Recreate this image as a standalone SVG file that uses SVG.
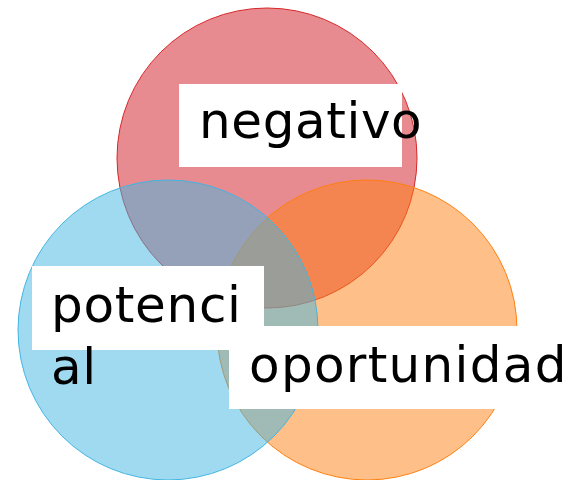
<svg xmlns="http://www.w3.org/2000/svg" width="573" height="480" viewBox="0 0 573 480">
<style>
.c{fill-opacity:0.5;stroke-width:1}
.box{fill:#ffffff}
.t{font-family:"DejaVu Sans","Liberation Sans",sans-serif;font-size:50px;fill:#000000}
</style>
<rect width="573" height="480" fill="#ffffff"/>
<g id="circle-negativo"><circle class="c" cx="267" cy="158" r="150" fill="#D11721" stroke="#D62728"/></g>
<g id="circle-oportunidad"><circle class="c" cx="367" cy="330" r="150" fill="#FF7F11" stroke="#FF7F0E"/></g>
<g id="circle-potencial"><circle class="c" cx="168" cy="330" r="150" fill="#41B5E1" stroke="#41B5E1"/></g>
<g id="label-negativo">
<rect class="box" x="179" y="84" width="223" height="83"/>
<text class="t" x="199" y="138" letter-spacing="0.6">negativo</text>
</g>
<g id="label-potencial">
<rect class="box" x="32" y="266" width="232" height="84"/>
<text class="t" x="51" y="322" letter-spacing="0.7">potenci<tspan x="51" y="384">al</tspan></text>
</g>
<g id="label-oportunidad">
<rect class="box" x="229" y="326" width="344" height="83"/>
<text class="t" x="249" y="382" letter-spacing="1.3">oportunidad</text>
</g>
<g id="connectors"></g>
</svg>
